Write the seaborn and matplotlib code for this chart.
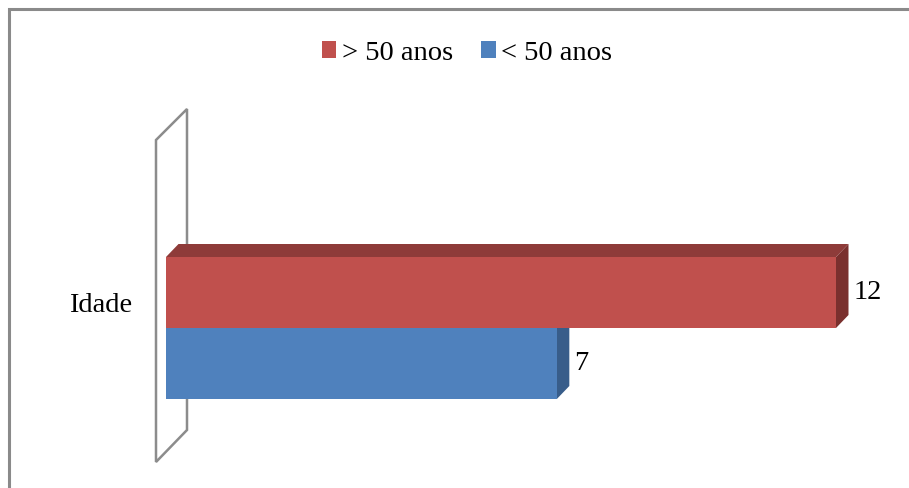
import matplotlib
matplotlib.use("Agg")
import matplotlib.pyplot as plt
import matplotlib.transforms as mtransforms
from matplotlib.patches import Polygon, Rectangle
import pandas as pd
import seaborn as sns

# Data
categorias = ["Idade"]
grupos = ["> 50 anos", "< 50 anos"]
valores = [12, 7]
cores = ["#C0504D", "#4F81BD"]
cores_topo = ["#8E3B39", "#3B5F8E"]
cores_lado = ["#7A302E", "#385D8A"]

df = pd.DataFrame({
    "categoria": categorias * len(grupos),
    "grupo": grupos,
    "valor": valores,
})

sns.set_style("white")
plt.rcParams["font.family"] = ["Liberation Serif", "DejaVu Serif"]
plt.rcParams["text.color"] = "black"
FS = 20.5

W, H, DPI = 909, 488, 100
fig = plt.figure(figsize=(W / DPI, H / DPI), dpi=DPI)
fig.patch.set_facecolor("white")

# plot area: x from 0 to 12, the two dodged bars fill y in [-0.4, 0.4]
ax = fig.add_axes([166 / W, (H - 399) / H, 670 / W, 142 / H])
sns.barplot(data=df, x="valor", y="categoria", hue="grupo", hue_order=grupos,
            orient="h", palette=cores, saturation=1, width=0.8,
            linewidth=0, ax=ax)
XMAX = 12
ax.set_xlim(0, XMAX)
ax.set_ylim(0.4, -0.4)
ax.set_xlabel("")
ax.set_ylabel("")
ax.set_xticks([])
for s in ax.spines.values():
    s.set_visible(False)
ax.set_facecolor("none")

# depth of the 3D effect in data units (≈12.5 px right, 13 px up)
px_x = 670 / XMAX
px_y = 142 / 0.8
dx = 12.5 / px_x
dy = 13 / px_y

# back wall outline
wx0, wx1 = -10 / px_x, 21 / px_x
wall = Polygon([(wx0, -188 / px_y), (wx1, -219 / px_y), (wx1, 102 / px_y), (wx0, 134 / px_y)],
               closed=True, facecolor="white", edgecolor="#8C8C8C", lw=1.8,
               zorder=0.2, clip_on=False)
ax.add_patch(wall)

# 3D faces of each bar
for i, cont in enumerate(ax.containers):
    for bar in cont:
        x0 = bar.get_x()
        x1 = x0 + bar.get_width()
        yt = bar.get_y()
        yb = yt + bar.get_height()
        bar.set_zorder(1 + (1 - i) * 0.5)
        side = Polygon([(x1, yt), (x1 + dx, yt - dy), (x1 + dx, yb - dy), (x1, yb)],
                       closed=True, facecolor=cores_lado[i], lw=0,
                       zorder=0.9 + (1 - i) * 0.5, clip_on=False)
        top = Polygon([(x0, yt), (x1, yt), (x1 + dx, yt - dy), (x0 + dx, yt - dy)],
                      closed=True, facecolor=cores_topo[i], lw=0,
                      zorder=0.9 + (1 - i) * 0.5, clip_on=False)
        ax.add_patch(side)
        ax.add_patch(top)
    ax.bar_label(cont, labels=[f"{v:g}" for v in cont.datavalues],
                 padding=12.5, fontsize=FS, color="black")

# category label
ax.tick_params(axis="y", length=0, pad=24.5, labelsize=FS, labelcolor="black")
shift = mtransforms.ScaledTranslation(0, 26 / DPI, fig.dpi_scale_trans)
for lab in ax.get_yticklabels():
    lab.set_transform(lab.get_transform() + shift)

# legend at the top
sns.move_legend(ax, loc="center", bbox_to_anchor=(467 / W, 1 - 53 / H),
                bbox_transform=fig.transFigure, ncol=2, frameon=False,
                title=None, fontsize=FS, handlelength=0.5, handleheight=0.5,
                handletextpad=0.2, columnspacing=1.0)
for t in ax.get_legend().get_texts():
    t.set_color("black")

# chart area border
fig.patches.append(Rectangle((9 / W, -0.1), 1.2, 1.1 - 9 / H,
                             transform=fig.transFigure, fill=False,
                             edgecolor="#8A8A8A", lw=2.2))

fig.savefig("out.png", dpi=DPI, facecolor="white")
